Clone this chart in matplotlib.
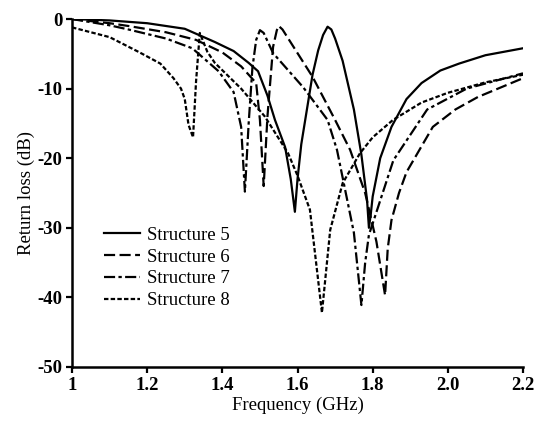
import numpy as np
import matplotlib
matplotlib.use('Agg')
import matplotlib.pyplot as plt

# Structure 5 (solid)
f5 = [1.00, 1.10, 1.20, 1.30, 1.38, 1.43, 1.47, 1.495, 1.52, 1.54, 1.567, 1.582, 1.593, 1.60,
      1.61, 1.625, 1.64, 1.655, 1.668, 1.68, 1.69, 1.70, 1.72, 1.75, 1.77, 1.785, 1.79, 1.795,
      1.80, 1.82, 1.85, 1.89, 1.93, 1.98, 2.03, 2.10, 2.20]
rl5 = [0.0, -0.2, -0.6, -1.4, -3.3, -4.6, -6.3, -7.5, -11.0, -14.5, -18.4, -23.0, -27.7, -23.0,
       -18.0, -13.0, -8.0, -4.5, -2.3, -1.1, -1.5, -2.8, -6.0, -13.0, -19.5, -26.0, -30.0, -28.0,
       -25.5, -20.0, -15.5, -11.5, -9.2, -7.4, -6.4, -5.2, -4.2]

# Structure 6 (dashed)
f6 = [1.00, 1.10, 1.15, 1.25, 1.33, 1.40, 1.45, 1.49, 1.50, 1.51, 1.52, 1.535, 1.545, 1.55,
      1.56, 1.58, 1.64, 1.70, 1.74, 1.78, 1.81, 1.833, 1.84, 1.85, 1.87, 1.89, 1.96, 2.02,
      2.08, 2.20]
rl6 = [0.0, -0.6, -1.0, -1.9, -3.0, -4.8, -6.8, -9.2, -14.5, -24.0, -14.0, -4.0, -1.6, -1.0,
       -1.5, -3.2, -8.3, -14.5, -18.8, -25.0, -32.0, -39.7, -33.0, -28.9, -25.0, -22.0, -15.5, -13.0,
       -11.2, -8.5]

# Structure 7 (dash-dot)
f7 = [1.00, 1.10, 1.15, 1.25, 1.32, 1.39, 1.43, 1.45, 1.46, 1.47, 1.48, 1.49, 1.50, 1.51,
      1.535, 1.615, 1.68, 1.705, 1.75, 1.77, 1.78, 1.79, 1.806, 1.855, 1.945, 2.05, 2.20]
rl7 = [0.0, -0.9, -1.5, -2.8, -4.2, -7.5, -10.5, -15.5, -24.8, -15.0, -7.0, -3.0, -1.6, -2.0,
       -4.9, -9.8, -14.5, -18.8, -30.7, -41.1, -35.0, -31.0, -28.4, -20.3, -13.0, -10.0, -7.8]

# Structure 8 (dotted)
f8 = [1.00, 1.10, 1.18, 1.235, 1.27, 1.29, 1.30, 1.31, 1.322, 1.33, 1.34, 1.36, 1.38, 1.45,
      1.513, 1.575, 1.60, 1.633, 1.665, 1.687, 1.72, 1.766, 1.80, 1.854, 1.93, 2.00, 2.10, 2.20]
rl8 = [-1.2, -2.6, -4.8, -6.4, -8.5, -10.0, -11.5, -15.2, -17.0, -9.0, -2.0, -4.7, -6.3, -10.0,
       -14.0, -19.3, -22.5, -27.4, -42.2, -30.3, -23.6, -19.3, -17.0, -14.5, -12.0, -10.6, -9.1, -8.0]

labels = ['Structure 5', 'Structure 6', 'Structure 7', 'Structure 8']
xticks = [1.0, 1.2, 1.4, 1.6, 1.8, 2.0, 2.2]
xticklabels = ['1', '1.2', '1.4', '1.6', '1.8', '2.0', '2.2']
yticks = [0, -10, -20, -30, -40, -50]

plt.rcParams['font.family'] = ['Liberation Serif', 'DejaVu Serif']
plt.rcParams['font.size'] = 13.5

fig = plt.figure(figsize=(5.35, 4.23), dpi=100)
ax = fig.add_axes([0.1346, 0.1324, 0.843, 0.8226])

lw = 1.6
ax.plot(f5, rl5, color='black', lw=lw, linestyle='-', label=labels[0])
ax.plot(f6, rl6, color='black', lw=lw, linestyle=(0, (5, 2)), label=labels[1])
ax.plot(f7, rl7, color='black', lw=lw, linestyle=(0, (5, 1.5, 1.5, 1.5)), label=labels[2])
ax.plot(f8, rl8, color='black', lw=lw, linestyle=(0, (2, 1)), label=labels[3])

ax.set_xlim(1.0, 2.2)
ax.set_ylim(-50, 0)
ax.set_xticks(xticks)
ax.set_xticklabels(xticklabels, fontweight='bold')
ax.set_yticks(yticks)
ax.set_yticklabels([str(v) for v in yticks], fontweight='bold')
ax.spines['top'].set_visible(False)
ax.spines['right'].set_visible(False)
ax.spines['left'].set_linewidth(1.8)
ax.spines['bottom'].set_linewidth(1.8)
ax.tick_params(direction='out', length=4, width=1.6, pad=3)
ax.set_xlabel('Frequency (GHz)', labelpad=2)
ax.set_ylabel('Return loss (dB)', labelpad=2)

ax.legend(loc='upper left', bbox_to_anchor=(0.055, 0.425), frameon=False,
          handlelength=1.9, handletextpad=0.4, labelspacing=0.25, borderaxespad=0)

fig.savefig('out.png', dpi=100)
